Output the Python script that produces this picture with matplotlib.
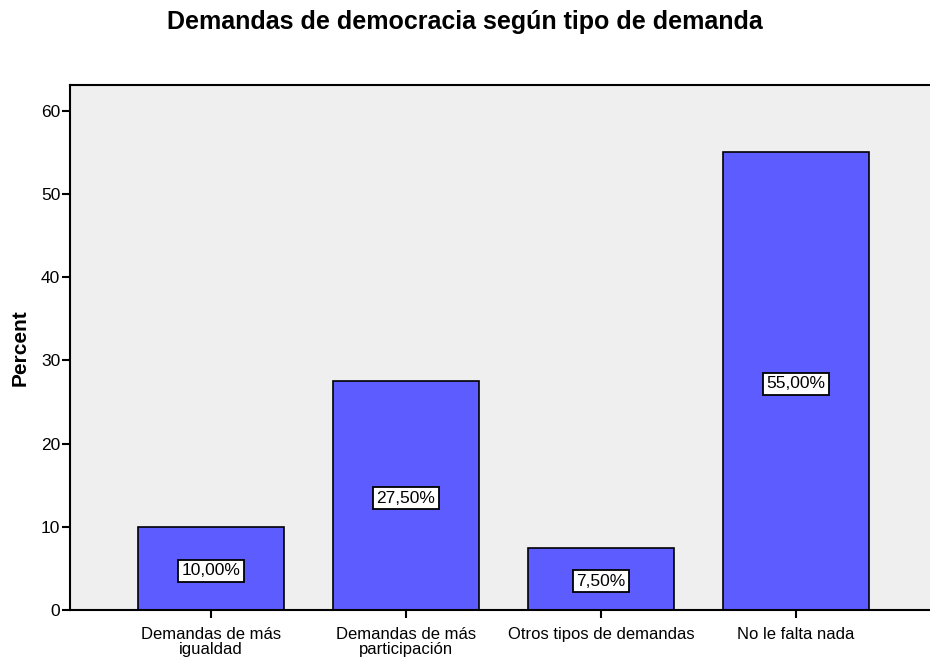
import matplotlib.pyplot as plt

plt.rcParams['font.family'] = ['Liberation Sans', 'DejaVu Sans']

categories = ["Demandas de más\nigualdad", "Demandas de más\nparticipación",
              "Otros tipos de demandas", "No le falta nada"]
percent = [10.0, 27.5, 7.5, 55.0]
labels = ["10,00%", "27,50%", "7,50%", "55,00%"]

fig = plt.figure(figsize=(9.3, 6.57), dpi=100)
ax = fig.add_axes([0.0753, 0.0715, 0.9247, 0.7991])
ax.set_facecolor('#efefef')

x = range(len(categories))
bars = ax.bar(x, percent, width=0.75, color='#5c5cff', edgecolor='black', linewidth=1.2, zorder=2)

# value labels in the middle of each bar
for xi, v, t in zip(x, percent, labels):
    ax.text(xi, v / 2 - 0.3, t, ha='center', va='center', fontsize=12.5, zorder=3,
            bbox=dict(boxstyle='square,pad=0.2', facecolor='white', edgecolor='black', linewidth=1.3))

ax.set_xlim(-0.723, 3.687)
ax.set_ylim(0, 63.1)
ax.set_yticks([0, 10, 20, 30, 40, 50, 60])
ax.set_xticks(list(x))
ax.set_xticklabels(categories, fontsize=12, linespacing=1.05)
ax.tick_params(axis='y', labelsize=12.5, length=6, width=1.5, pad=1)
ax.tick_params(axis='x', length=6, width=1.5, pad=6)

ax.spines['right'].set_visible(False)
for s in ['left', 'top', 'bottom']:
    ax.spines[s].set_linewidth(1.5)

ax.set_ylabel('Percent', fontsize=15, fontweight='bold', labelpad=8)
fig.suptitle('Demandas de democracia según tipo de demanda', fontsize=18, fontweight='bold',
             x=0.5, y=0.985)

fig.savefig('out.png', dpi=100)
